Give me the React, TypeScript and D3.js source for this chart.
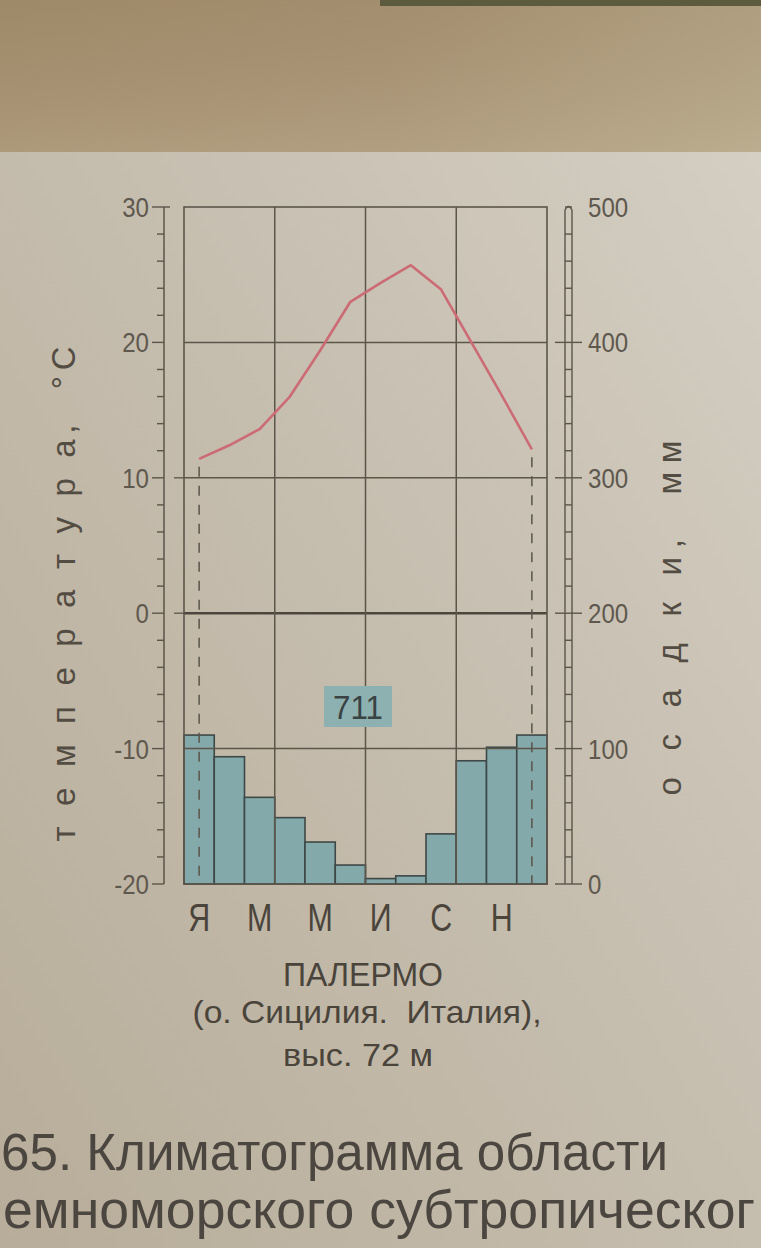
import React from 'react';
import * as d3 from 'd3';

// ---- data ----
const monthIdx = d3.range(12);
const monthLabels = ['Я', '', 'М', '', 'М', '', 'И', '', 'С', '', 'Н', ''];
const temperature = [11.4, 12.4, 13.6, 16.0, 19.4, 23.0, 24.4, 25.7, 23.9, 20.0, 16.1, 12.1];
const precipitation = [110, 94, 64, 49, 31, 14, 4, 6, 37, 91, 101, 110];
const annualTotal = '711';
const tempTicks = [30, 20, 10, 0, -10, -20];
const precipTicks = [500, 400, 300, 200, 100, 0];
const gridTemps = [20, 10, 0, -10];
const titleLines = ['ПАЛЕРМО', '(о. Сицилия.  Италия),', 'выс. 72 м'];
const captionLines = ['65. Климатограмма области', 'емноморского субтропическог'];
const leftTitle = 'т е м п е р а т у р а,  °С';
const rightTitle = 'о с а д к и,  мм';

const W = 761;
const H = 1248;
const L = 184;
const R = 547;
const T = 207;
const B = 884;

const SANS = "'Liberation Sans', Arial, sans-serif";

type NProps = {
  x: number;
  y: number;
  sx?: number;
  anchor?: string;
  size: number;
  fill: string;
  children: React.ReactNode;
};

// condensed text: regular sans squeezed horizontally
function NText({ x, y, sx = 0.84, anchor = 'start', size, fill, children }: NProps) {
  return (
    <g transform={`translate(${x},${y}) scale(${sx},1)`}>
      <text x={0} y={0} textAnchor={anchor} fontFamily={SANS} fontSize={size} fill={fill} style={{ whiteSpace: 'pre' }}>
        {children}
      </text>
    </g>
  );
}

export default function App() {
  const x = d3.scaleBand<number>().domain(monthIdx).range([L, R]).padding(0);
  const yT = d3.scaleLinear().domain([-20, 30]).range([B, T]);
  const yP = d3.scaleLinear().domain([0, 500]).range([B, T]);
  const cx = (i: number) => (x(i) as number) + x.bandwidth() / 2;

  const line = d3
    .line<number>()
    .x((_, i) => cx(i))
    .y((d) => yT(d));

  const AX = L - 20;
  const RX = R + 18;
  const LW = 7;
  const minorT = d3.range(-20, 31, 2);
  const rungs = d3.range(0, 501, 20);

  const gridColor = '#5c554a';
  const numColor = '#5e584e';
  const textColor = '#4a443b';

  return (
    <svg
      width={W}
      height={H}
      viewBox={`0 0 ${W} ${H}`}
      style={{ position: 'absolute', left: 0, top: 0, display: 'block' }}
    >
      <defs>
        <linearGradient id="page" x1="0" y1="1" x2="1" y2="0">
          <stop offset="0" stopColor="#b8ad9a" />
          <stop offset="0.5" stopColor="#c5bdae" />
          <stop offset="1" stopColor="#d6d1c6" />
        </linearGradient>
        <linearGradient id="band" x1="0" y1="0" x2="1" y2="0">
          <stop offset="0" stopColor="#a38d6c" />
          <stop offset="0.5" stopColor="#a99374" />
          <stop offset="1" stopColor="#b9aa8b" />
        </linearGradient>
        <linearGradient id="bandFade" x1="0" y1="0" x2="0" y2="1">
          <stop offset="0" stopColor="#8f7c5c" stopOpacity="0.25" />
          <stop offset="1" stopColor="#c0b296" stopOpacity="0.35" />
        </linearGradient>
      </defs>

      {/* background */}
      <rect x={0} y={0} width={W} height={H} fill="url(#page)" />
      <rect x={0} y={0} width={W} height={152} fill="url(#band)" />
      <rect x={0} y={0} width={W} height={152} fill="url(#bandFade)" />
      <rect x={380} y={0} width={W - 380} height={6} fill="#5d5b3e" />

      {/* precipitation bars */}
      {precipitation.map((p, i) => (
        <rect
          key={`b${i}`}
          x={x(i)}
          y={yP(p)}
          width={x.bandwidth()}
          height={B - yP(p)}
          fill="#84a9ab"
          stroke="#3e4846"
          strokeWidth={1.6}
        />
      ))}

      {/* horizontal grid */}
      {gridTemps.map((t) => (
        <line
          key={`g${t}`}
          x1={L}
          x2={R}
          y1={yT(t)}
          y2={yT(t)}
          stroke={t === 0 ? '#4d463c' : gridColor}
          strokeWidth={t === 0 ? 2.4 : 1.5}
        />
      ))}
      {/* vertical grid every 3 months */}
      {[3, 6, 9].map((i) => (
        <line key={`v${i}`} x1={x(i)} x2={x(i)} y1={T} y2={B} stroke={gridColor} strokeWidth={1.5} />
      ))}
      {/* frame */}
      <rect x={L} y={T} width={R - L} height={B - T} fill="none" stroke={gridColor} strokeWidth={1.6} />
      <line x1={L - 10} x2={L} y1={yT(10)} y2={yT(10)} stroke={gridColor} strokeWidth={1.3} />
      <line x1={L - 10} x2={L} y1={yT(0)} y2={yT(0)} stroke={gridColor} strokeWidth={1.3} />

      {/* total label */}
      <rect x={324} y={686} width={68} height={41} fill="#8db0b1" />
      <NText x={358} y={719} anchor="middle" size={33} sx={0.95} fill="#3a4343">
        {annualTotal}
      </NText>

      {/* dashed verticals for first and last month */}
      {[0, 11].map((i) => (
        <line
          key={`d${i}`}
          x1={cx(i)}
          x2={cx(i)}
          y1={yT(temperature[i]) + 8}
          y2={B}
          stroke="#5a5448"
          strokeWidth={1.5}
          strokeDasharray="10,9"
        />
      ))}

      {/* temperature line */}
      <path d={line(temperature) || ''} fill="none" stroke="#cc6b75" strokeWidth={2.6} strokeLinejoin="round" />

      {/* left temperature axis */}
      <line x1={AX} x2={AX} y1={T} y2={B} stroke={gridColor} strokeWidth={1.5} />
      {minorT.map((t) => (
        <line
          key={`mt${t}`}
          x1={AX - (t % 10 === 0 ? 12 : 7)}
          x2={AX}
          y1={yT(t)}
          y2={yT(t)}
          stroke={gridColor}
          strokeWidth={1.4}
        />
      ))}
      <line x1={AX} x2={AX + 6} y1={T} y2={T} stroke={gridColor} strokeWidth={1.4} />
      {tempTicks.map((t) => (
        <NText key={`lt${t}`} x={AX - 15} y={yT(t) + 10} anchor="end" size={28} sx={0.86} fill={numColor}>
          {t}
        </NText>
      ))}

      {/* right precipitation ladder axis */}
      <line x1={RX} x2={RX} y1={T + 3} y2={B} stroke={gridColor} strokeWidth={1.4} />
      <line x1={RX + LW} x2={RX + LW} y1={T + 3} y2={B} stroke={gridColor} strokeWidth={1.4} />
      <path
        d={`M${RX},${T + 3} Q${RX + LW / 2},${T - 4} ${RX + LW},${T + 3}`}
        fill="none"
        stroke={gridColor}
        strokeWidth={1.4}
      />
      {rungs.map((p) => (
        <line
          key={`r${p}`}
          x1={p % 100 === 0 && p !== 500 ? RX - 10 : RX}
          x2={p % 100 === 0 && p !== 500 ? RX + LW + 10 : RX + LW}
          y1={yP(p)}
          y2={yP(p)}
          stroke={gridColor}
          strokeWidth={1.4}
        />
      ))}
      {precipTicks.map((p) => (
        <NText key={`rt${p}`} x={RX + LW + 16} y={yP(p) + 10} anchor="start" size={28} sx={0.86} fill={numColor}>
          {p}
        </NText>
      ))}

      {/* axis titles */}
      <text
        transform={`translate(75, 594) rotate(-90)`}
        textAnchor="middle"
        fontFamily={SANS}
        fontSize={33}
        fill="#534c42"
        textLength={495}
        lengthAdjust="spacing"
        style={{ whiteSpace: 'pre' }}
      >
        {leftTitle}
      </text>
      <text
        transform={`translate(681, 618) rotate(-90)`}
        textAnchor="middle"
        fontFamily={SANS}
        fontSize={33}
        fill="#534c42"
        textLength={355}
        lengthAdjust="spacing"
        style={{ whiteSpace: 'pre' }}
      >
        {rightTitle}
      </text>

      {/* month labels */}
      {monthIdx
        .filter((i) => monthLabels[i] !== '')
        .map((i) => (
          <NText key={`m${i}`} x={cx(i)} y={931} anchor="middle" size={38} sx={0.8} fill={textColor}>
            {monthLabels[i]}
          </NText>
        ))}

      {/* station title */}
      <text x={363} y={986} textAnchor="middle" fontFamily={SANS} fontSize={34} fill={textColor} textLength={160} lengthAdjust="spacingAndGlyphs">
        {titleLines[0]}
      </text>
      <text x={367} y={1023} textAnchor="middle" fontFamily={SANS} fontSize={32} fill={textColor} textLength={349} lengthAdjust="spacingAndGlyphs" style={{ whiteSpace: 'pre' }}>
        {titleLines[1]}
      </text>
      <text x={358} y={1066} textAnchor="middle" fontFamily={SANS} fontSize={32} fill={textColor} textLength={150} lengthAdjust="spacingAndGlyphs">
        {titleLines[2]}
      </text>

      {/* caption */}
      <text x={1} y={1170} fontFamily={SANS} fontSize={51} fill="#4b463f" textLength={667} lengthAdjust="spacingAndGlyphs">
        {captionLines[0]}
      </text>
      <text x={3} y={1228} fontFamily={SANS} fontSize={53} fill="#4b463f" textLength={752} lengthAdjust="spacingAndGlyphs">
        {captionLines[1]}
      </text>
    </svg>
  );
}
